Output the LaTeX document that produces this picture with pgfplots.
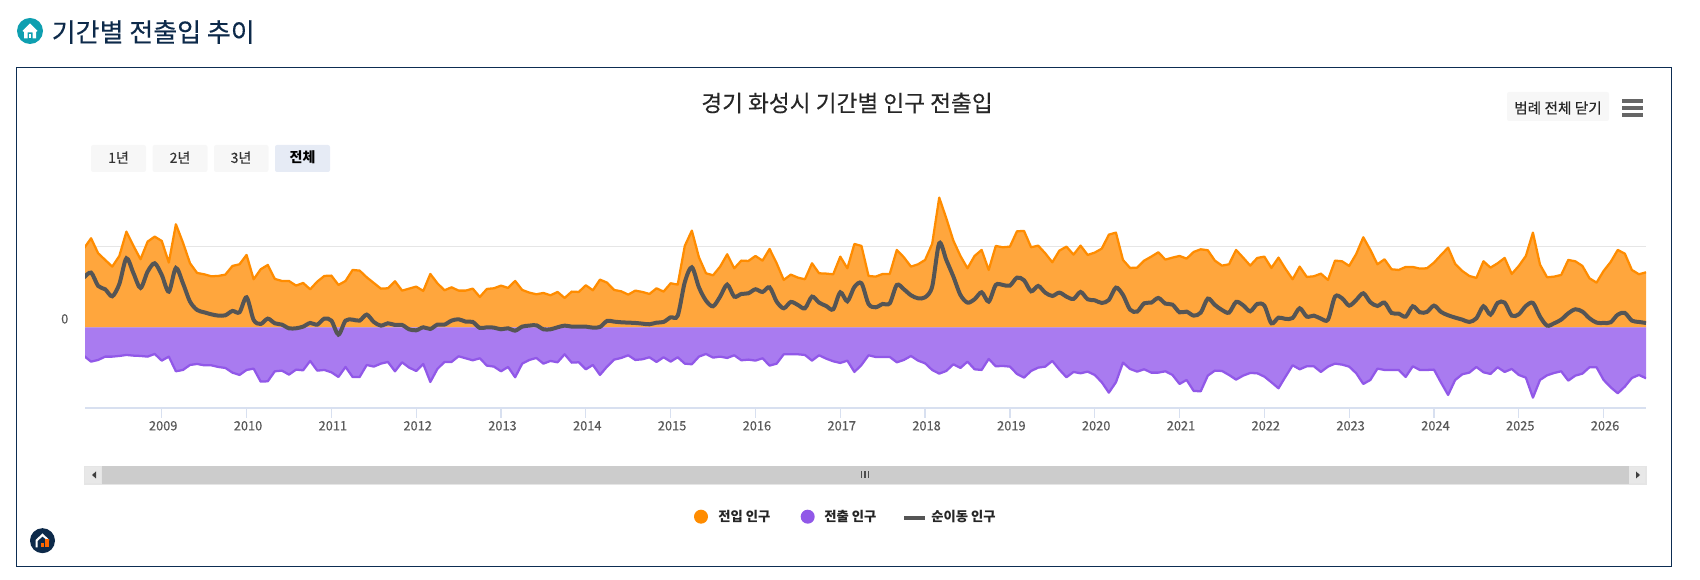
\documentclass[border=0pt]{standalone}
\usepackage{pgfplots}
\usepackage{pgfplotstable}
\usepackage{fontspec}
\pgfplotsset{compat=1.18}
\setmainfont{Noto Sans CJK KR}
\newfontfamily\medfont[FakeBold=0.3]{Noto Sans CJK KR}
\definecolor{inline}{HTML}{FF8C00}
\definecolor{infill}{HTML}{FFA63D}
\definecolor{outline}{HTML}{9158E8}
\definecolor{outfill}{HTML}{A97BF0}
\definecolor{netline}{HTML}{555555}
\definecolor{frame}{HTML}{0D2D52}
\definecolor{axisline}{HTML}{D8E0F0}
\definecolor{gridc}{HTML}{E6E6E6}
\definecolor{teal}{HTML}{0E9FB0}
\definecolor{navy}{HTML}{0D2A4A}
% heights; the chart prints no scale but 0 (gridline at 243)
\pgfplotstableread{
i in out net
0 237 -86 149
1 267 -103 164
2 222 -98 124
3 202 -88 114
4 182 -88 93
5 214 -86 130
6 287 -83 207
7 244 -85 162
8 204 -86 118
9 257 -88 167
10 272 -80 192
11 259 -100 157
12 194 -88 107
13 309 -132 178
14 254 -128 132
15 192 -113 77
16 163 -110 52
17 159 -114 45
18 153 -114 39
19 154 -119 35
20 158 -122 36
21 184 -136 49
22 189 -143 45
23 217 -128 90
24 144 -124 22
25 174 -163 10
26 187 -162 26
27 145 -132 12
28 139 -130 8
29 139 -142 -3
30 125 -127 -3
31 133 -129 2
32 114 -101 13
33 137 -130 8
34 154 -128 26
35 155 -135 20
36 127 -149 -22
37 139 -119 20
38 172 -149 23
39 170 -149 20
40 150 -113 38
41 133 -118 16
42 116 -109 5
43 117 -104 12
44 138 -132 7
45 110 -105 7
46 116 -121 -6
47 122 -131 -9
48 109 -110 0
49 160 -164 -5
50 132 -125 8
51 111 -104 8
52 120 -104 20
53 110 -87 24
54 110 -93 17
55 116 -99 16
56 91 -93 -2
57 115 -115 0
58 117 -118 -1
59 125 -132 -6
60 118 -119 -3
61 139 -150 -10
62 112 -109 2
63 104 -98 5
64 99 -92 6
65 103 -109 -6
66 96 -101 -6
67 106 -105 0
68 88 -81 5
69 107 -106 2
70 106 -105 2
71 126 -126 2
72 111 -113 -1
73 143 -143 1
74 134 -118 19
75 112 -97 17
76 108 -92 15
77 98 -84 14
78 110 -98 13
79 106 -96 11
80 100 -90 9
81 117 -104 14
82 107 -90 16
83 132 -103 30
84 128 -90 35
85 244 -109 135
86 290 -111 180
87 210 -88 120
88 162 -80 80
89 156 -91 63
90 182 -88 92
91 219 -92 128
92 177 -84 92
93 200 -99 100
94 199 -97 102
95 214 -100 114
96 200 -93 106
97 235 -115 120
98 192 -109 77
99 142 -81 57
100 158 -81 76
101 149 -81 67
102 144 -83 57
103 192 -100 92
104 162 -84 74
105 161 -94 64
106 159 -102 54
107 212 -107 105
108 177 -100 78
109 250 -134 121
110 244 -113 132
111 154 -84 70
112 152 -89 60
113 160 -89 70
114 160 -89 72
115 232 -105 127
116 210 -98 114
117 182 -86 96
118 189 -100 87
119 202 -108 90
120 250 -128 122
121 389 -139 252
122 327 -131 202
123 260 -111 152
124 214 -122 97
125 177 -103 74
126 214 -126 84
127 232 -128 105
128 172 -95 77
129 244 -117 127
130 240 -116 127
131 242 -118 125
132 288 -140 149
133 289 -151 141
134 240 -131 108
135 245 -121 124
136 222 -118 104
137 195 -101 94
138 230 -127 104
139 242 -150 92
140 218 -134 85
141 245 -138 106
142 217 -133 84
143 224 -143 81
144 236 -165 73
145 278 -196 82
146 284 -165 119
147 202 -106 97
148 178 -125 53
149 179 -133 47
150 200 -126 72
151 212 -136 74
152 225 -136 88
153 203 -132 71
154 209 -143 68
155 214 -170 45
156 206 -158 47
157 226 -191 35
158 234 -192 44
159 231 -145 86
160 200 -130 67
161 185 -131 52
162 189 -143 44
163 232 -157 76
164 209 -145 66
165 185 -137 48
166 208 -138 70
167 212 -148 65
168 178 -165 12
169 209 -183 29
170 175 -148 25
171 144 -114 28
172 182 -126 57
173 151 -117 32
174 153 -117 35
175 161 -134 26
176 142 -118 23
177 200 -109 92
178 198 -112 87
179 184 -118 65
180 220 -138 82
181 270 -170 102
182 232 -158 75
183 189 -124 64
184 204 -128 74
185 174 -128 43
186 172 -128 41
187 181 -149 32
188 181 -117 63
189 176 -128 45
190 177 -128 46
191 194 -127 65
192 217 -166 46
193 239 -203 36
194 190 -158 29
195 169 -141 23
196 154 -136 16
197 148 -119 27
198 198 -135 63
199 179 -140 38
200 192 -120 73
201 208 -134 74
202 160 -125 35
203 184 -143 39
204 214 -151 64
205 284 -211 73
206 188 -158 32
207 150 -144 5
208 152 -137 12
209 157 -132 23
210 202 -160 42
211 198 -145 54
212 184 -139 47
213 147 -120 27
214 134 -120 14
215 169 -158 13
216 196 -180 15
217 232 -198 38
218 221 -178 43
219 172 -152 20
220 159 -143 16
221 165 -153 13
}\flows
\begin{document}
\begin{tikzpicture}
\path[use as bounding box] (0,0) rectangle (1275pt,435pt);
\begin{scope}[shift={(0,435pt)},x=0.75pt,y=-0.75pt]
  % frame
  \draw[frame,line width=0.9pt] (16.3,67.3) rectangle (1671.3,566.3);
  % page heading and icon
  \fill[teal] (30,31) circle (13);
  \fill[white] (22.5,31) -- (30,23.5) -- (37.5,31) -- (36,32) -- (36,38.5) -- (32.5,38.5) -- (32.5,32.5) -- (27.5,32.5) -- (27.5,38.5) -- (24,38.5) -- (24,32) -- cycle;
  \fill[white] (29,34.5) rectangle (31,38.5);
  \node[anchor=west,inner sep=0,text=navy] at (51.5,32) {\medfont\fontsize{19.5}{20}\selectfont 기간별 전출입 추이};
  % chart title
  \node[text=black!85,inner sep=0] at (847,103) {\medfont\fontsize{17}{18}\selectfont 경기 화성시 기간별 인구 전출입};
  % range buttons
  \fill[black!3,rounded corners=1.5pt] (91,145) rectangle (146,172);
  \fill[black!3,rounded corners=1.5pt] (152.5,145) rectangle (207.5,172);
  \fill[black!3,rounded corners=1.5pt] (214,145) rectangle (268.5,172);
  \fill[fill={rgb,255:red,230;green,235;blue,245},rounded corners=1.5pt] (275,145) rectangle (330,172);
  \node[text=black!80,inner sep=0] at (118.5,157.5) {\medfont\fontsize{10.5}{11}\selectfont 1년};
  \node[text=black!80,inner sep=0] at (180,157.5) {\medfont\fontsize{10.5}{11}\selectfont 2년};
  \node[text=black!80,inner sep=0] at (241,157.5) {\medfont\fontsize{10.5}{11}\selectfont 3년};
  \node[text=black,inner sep=0] at (302.5,157.5) {\fontsize{10.5}{11}\selectfont\bfseries 전체};
  % legend toggle and menu
  \fill[black!3,rounded corners=1.5pt] (1507,92) rectangle (1609,121);
  \node[text=black!85,inner sep=0] at (1558,108) {\medfont\fontsize{11}{12}\selectfont 범례 전체 닫기};
  \draw[black!60,line width=2.7pt] (1622,101) -- (1643,101);
  \draw[black!60,line width=2.7pt] (1622,108) -- (1643,108);
  \draw[black!60,line width=2.7pt] (1622,115) -- (1643,115);
  % scrollbar
  \fill[black!10] (83.5,466) rectangle (1646.7,484.8);
  \fill[black!20] (101.5,466) rectangle (1629,484);
  \fill[black!9] (85,467) rectangle (101,483);
  \fill[black!9] (1629,467) rectangle (1645,483);
  \fill[black!75] (96,471.5) -- (92,475) -- (96,478.5) -- cycle;
  \fill[black!75] (1636,471.5) -- (1640,475) -- (1636,478.5) -- cycle;
  \foreach \gx in {861.5,865,868.5}{\draw[black!70,line width=0.8pt] (\gx,471.5) -- (\gx,478);}
  % legend
  \fill[inline] (701,516.7) circle (7);
  \node[anchor=west,inner sep=0,text=black!85] at (718,517) {\fontsize{10}{11}\selectfont\bfseries 전입 인구};
  \fill[outline] (807.7,516.7) circle (7);
  \node[anchor=west,inner sep=0,text=black!85] at (824,517) {\fontsize{10}{11}\selectfont\bfseries 전출 인구};
  \draw[netline,line width=2.6pt] (904,518) -- (925,518);
  \node[anchor=west,inner sep=0,text=black!85] at (931,517) {\fontsize{10}{11}\selectfont\bfseries 순이동 인구};
  % logo
  \fill[navy] (42.5,540.7) circle (12.5);
  \fill[white] (35.5,540) -- (42.5,533.5) -- (49.5,540) -- (48,541) -- (42.5,536.5) -- (37.5,541) -- (37.5,547.5) -- (35.5,547.5) -- cycle;
  \fill[orange!80!red] (41,543.5) rectangle (43.5,547.5);
  \fill[orange!80!red] (45,539.5) rectangle (48.5,547.5);
\end{scope}
\begin{axis}[
  at={(63.75pt,129.225pt)},anchor=south west,
  scale only axis,width=1170.75pt,height=178.275pt,
  xmin=0.14,xmax=221,ymin=-241.2,ymax=471.9,
  clip=true,
  axis x line*=bottom,axis y line*=left,
  y axis line style={draw=none},
  x axis line style={draw=axisline,line width=1.3pt},
  xtick={11,23,35,47,59,71,83,95,107,119,131,143,155,167,179,191,203,215},
  xticklabels={2009,2010,2011,2012,2013,2014,2015,2016,2017,2018,2019,2020,2021,2022,2023,2024,2025,2026},
  ytick={0,243},yticklabels={0,{}},
  /pgf/number format/assume math mode=true,
  tick label style={font=\medfont\fontsize{9.6}{11}\selectfont,text=black!65},
  xticklabel style={xshift=1.1pt,yshift=1pt},
  yticklabel style={yshift=6.3pt,xshift=-1.5pt},
  major tick length=7.5pt,
  tick align=outside,
  x tick style={draw=axisline,line width=0.9pt},
  y tick style={draw=none},
  ymajorgrids,
  grid style={draw=gridc,line width=0.75pt},
  minor tick num=0,
]
\addplot[draw=none,fill=infill] table[x=i,y=in]{\flows} \closedcycle;
\addplot[draw=none,fill=outfill] table[x=i,y=out]{\flows} \closedcycle;
\addplot[draw=inline,line width=1.7pt,line join=round] table[x=i,y=in]{\flows};
\addplot[draw=outline,line width=1.7pt,line join=round] table[x=i,y=out]{\flows};
\addplot[draw=netline,line width=3pt,smooth,tension=0.5] table[x=i,y=net]{\flows};
\end{axis}
\end{tikzpicture}
\end{document}
